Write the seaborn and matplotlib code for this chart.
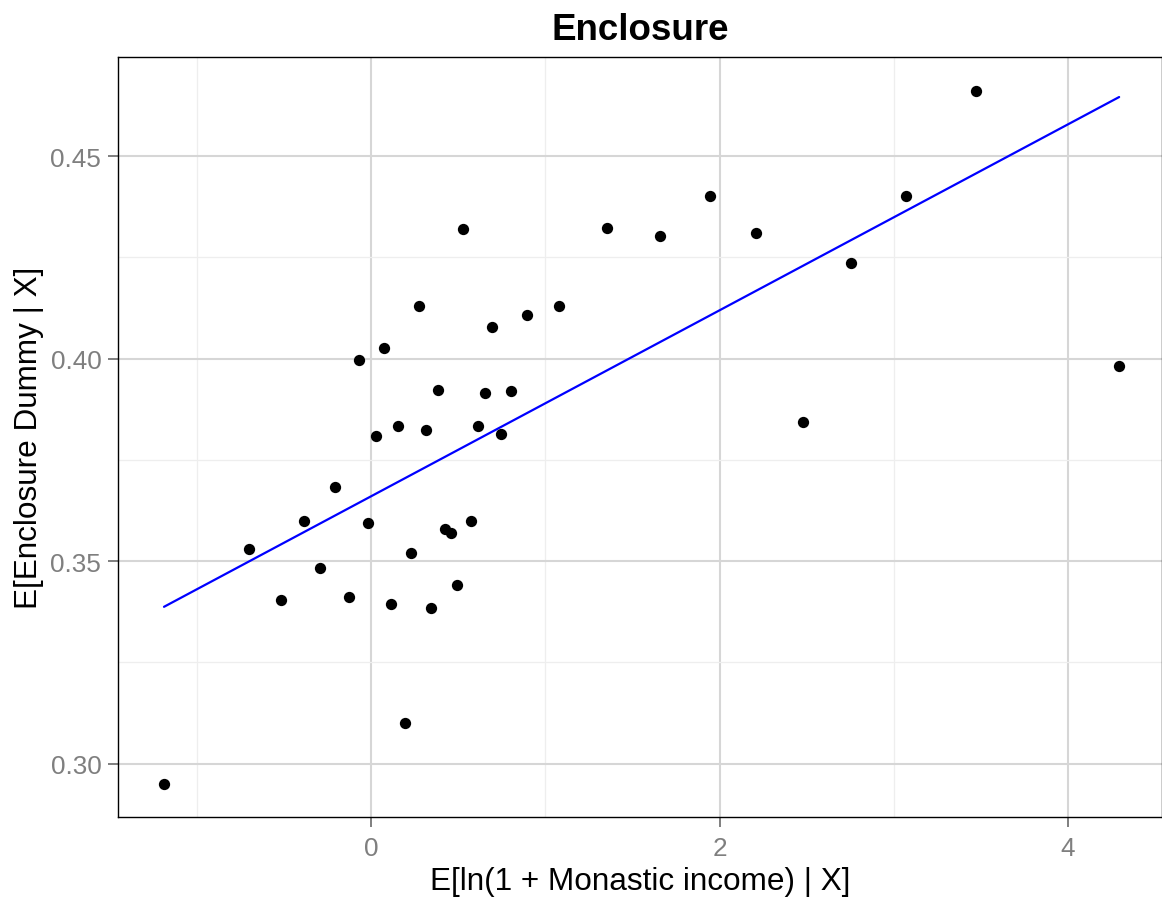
import numpy as np
import pandas as pd
import matplotlib
matplotlib.use("Agg")
import matplotlib.pyplot as plt
import seaborn as sns
from matplotlib.ticker import MultipleLocator

x_vals = [-1.188, -0.700, -0.516, -0.385, -0.293, -0.207, -0.126, -0.069, -0.017, 0.029,
          0.075, 0.115, 0.155, 0.195, 0.230, 0.275, 0.316, 0.344, 0.385, 0.425,
          0.459, 0.494, 0.528, 0.574, 0.614, 0.654, 0.694, 0.746, 0.803, 0.895,
          1.079, 1.354, 1.659, 1.946, 2.209, 2.479, 2.755, 3.070, 3.472, 4.293]
y_vals = [0.2950, 0.3529, 0.3405, 0.3600, 0.3484, 0.3684, 0.3412, 0.3996, 0.3595, 0.3810,
          0.4027, 0.3395, 0.3833, 0.3100, 0.3519, 0.4129, 0.3825, 0.3385, 0.3922, 0.3580,
          0.3570, 0.3440, 0.4320, 0.3598, 0.3833, 0.3914, 0.4077, 0.3813, 0.3919, 0.4107,
          0.4129, 0.4322, 0.4302, 0.4401, 0.4310, 0.3843, 0.4236, 0.4401, 0.4661, 0.3983]

# fitted linear relationship
fit_intercept = 0.3660
fit_slope = 0.02297

x_ticks = [0, 2, 4]
y_ticks = [0.30, 0.35, 0.40, 0.45]
y_tick_labels = ["0.30", "0.35", "0.40", "0.45"]

df = pd.DataFrame({"x": x_vals, "y": y_vals})
line_x = np.array([min(x_vals), max(x_vals)])
line_df = pd.DataFrame({"x": line_x, "y": fit_intercept + fit_slope * line_x})

sns.set_style("white")
plt.rcParams['font.family'] = ['Liberation Sans', 'DejaVu Sans']

fig = plt.figure(figsize=(11.62, 9.03), dpi=100)
ax = fig.add_axes([118/1162, 1 - 818/903, 1 - 118/1162, (818-58)/903])

ax.xaxis.set_minor_locator(MultipleLocator(1))
ax.yaxis.set_minor_locator(MultipleLocator(0.025))
ax.grid(which='major', color='#d6d6d6', linewidth=1.5, zorder=0)
ax.grid(which='minor', color='#eeeeee', linewidth=0.9, zorder=0)
ax.set_axisbelow(True)

sns.lineplot(data=line_df, x="x", y="y", ax=ax, color="#0000ff", linewidth=1.6, zorder=2)
sns.scatterplot(data=df, x="x", y="y", ax=ax, color="black", s=66, linewidth=0, zorder=3)

ax.set_xlim(-1.452, 4.539)
ax.set_ylim(0.2868, 0.4745)
ax.set_yticks(y_ticks)
ax.set_yticklabels(y_tick_labels)
ax.set_xticks(x_ticks)
ax.set_xticklabels([str(t) for t in x_ticks])

for s in ax.spines.values():
    s.set_color("black")
    s.set_linewidth(1.0)

ax.tick_params(axis='both', which='major', length=7, width=1.4, color='#7f7f7f',
               labelcolor='#7f7f7f', labelsize=18.8, direction='out',
               bottom=True, left=True)
ax.tick_params(axis='x', pad=7)
ax.tick_params(axis='y', pad=5)
ax.tick_params(which='minor', length=0)

ax.set_xlabel("E[ln(1 + Monastic income) | X]", fontsize=22.7, color='black', labelpad=4)
ax.set_ylabel("E[Enclosure Dummy | X]", fontsize=22.7, color='black', labelpad=5)
ax.set_title("Enclosure", fontsize=26.5, fontweight='bold', pad=13, color='black')

fig.savefig("out.png", dpi=100)
